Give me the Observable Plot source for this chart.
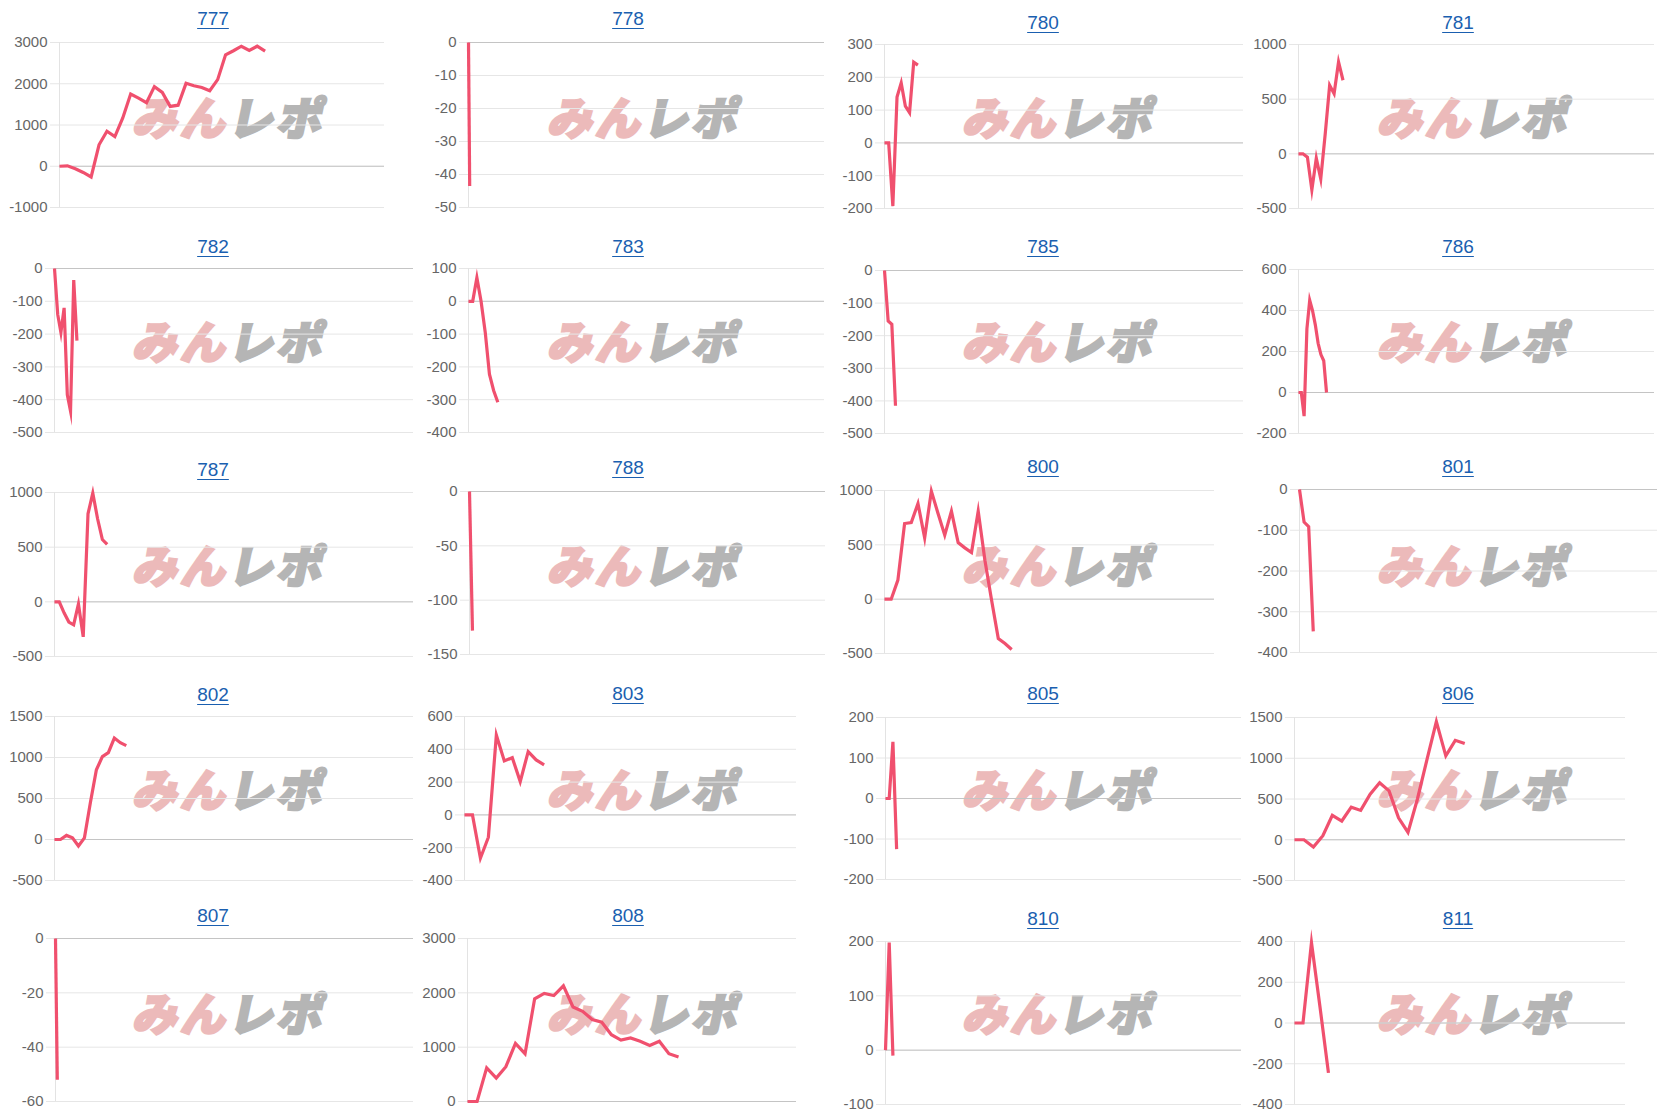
<!DOCTYPE html>
<html><head><meta charset="utf-8">
<script src="https://cdn.jsdelivr.net/npm/d3@7"></script>
<script src="https://cdn.jsdelivr.net/npm/@observablehq/plot@0.6"></script>
<style>
body{margin:0;background:#fff;width:1660px;height:1120px;overflow:hidden;font-family:"Liberation Sans",Arial,sans-serif}
#grid{position:relative;width:1660px;height:1120px}
.panel{position:absolute;width:415px;height:224px}
.title{position:absolute;left:0;width:426px;text-align:center;font-size:19px;line-height:22px;color:#1a5fb0;text-decoration:underline;text-underline-offset:3px}
.wm{position:absolute;left:136px;top:93px;font-family:"Noto Sans CJK JP",sans-serif;font-weight:900;font-size:45px;line-height:1;transform:skewX(-12deg);white-space:nowrap;letter-spacing:3px}
.wm .a{color:#ecbaba;-webkit-text-stroke:2.5px #ecbaba}
.wm .b{color:#b5b5b5;-webkit-text-stroke:2.5px #b5b5b5}
.panel svg{position:absolute;left:0;top:0}
</style></head>
<body><div id="grid"></div>
<script>
// chart names
const names = ["777","778","780","781","782","783","785","786","787","788","800","801","802","803","805","806","807","808","810","811"];

// series values
const s777 = [0,10,-60,-150,-260,520,850,720,1170,1750,1650,1540,1930,1790,1450,1480,2010,1950,1910,1830,2100,2700,2800,2910,2810,2910,2790];
const s778 = [0,-43.5];
const s780 = [0,0,-193,140,183,112,92,246,237];
const s781 = [0,0,-30,-330,-40,-230,180,627,550,840,673];
const s782 = [0,-140,-195,-120,-385,-435,-35,-220];
const s783 = [0,0,72,0,-95,-222,-272,-308];
const s785 = [0,-155,-165,-415];
const s786 = [0,0,-115,310,450,400,330,240,185,155,0];
const s787 = [0,0,-100,-185,-210,-20,-320,805,995,760,570,525];
const s788 = [0,-128];
const s800 = [0,0,175,696,705,880,564,994,788,589,810,521,472,429,810,359,-9,-362,-408,-463];
const s801 = [0,-80,-91,-348];
const s802 = [0,0,50,20,-80,20,450,850,1010,1060,1237,1180,1145];
const s803 = [0,0,-264,-136,487,329,349,203,386,335,305];
const s805 = [0,0,140,-125];
const s806 = [0,0,-90,50,300,230,400,360,560,700,600,270,90,500,980,1450,1030,1220,1180];
const s807 = [0,-52];
const s808 = [0,0,620,430,640,1070,880,1890,1990,1950,2130,1740,1660,1510,1460,1230,1130,1170,1110,1030,1110,880,820];
const s810 = [0,198,-10];
const s811 = [0,0,395,80,-245];
const seriesList = [s777,s778,s780,s781,s782,s783,s785,s786,s787,s788,s800,s801,s802,s803,s805,s806,s807,s808,s810,s811];

// number of x slots of each chart's axis
const xSlots = [41.1,300,86,80,112,85,98,127,75,120,49.3,78,60,41.7,96,35,200,34.3,96,39];

// y tick labels
const t777 = [-1000,0,1000,2000,3000];
const t778 = [-50,-40,-30,-20,-10,0];
const t780 = [-200,-100,0,100,200,300];
const t781 = [-500,0,500,1000];
const t782 = [-500,-400,-300,-200,-100,0];
const t783 = [-400,-300,-200,-100,0,100];
const t785 = [-500,-400,-300,-200,-100,0];
const t786 = [-200,0,200,400,600];
const t787 = [-500,0,500,1000];
const t788 = [-150,-100,-50,0];
const t800 = [-500,0,500,1000];
const t801 = [-400,-300,-200,-100,0];
const t802 = [-500,0,500,1000,1500];
const t803 = [-400,-200,0,200,400,600];
const t805 = [-200,-100,0,100,200];
const t806 = [-500,0,500,1000,1500];
const t807 = [-60,-40,-20,0];
const t808 = [0,1000,2000,3000];
const t810 = [-100,0,100,200];
const t811 = [-400,-200,0,200,400];
const tickList = [t777,t778,t780,t781,t782,t783,t785,t786,t787,t788,t800,t801,t802,t803,t805,t806,t807,t808,t810,t811];

// layout: [plot left, plot right, plot top, plot bottom, title centre y] inside each 415x224 panel
const frames = [
  [59,384,42,207,19],[53,409,42,207,19],[54,413,44,208,23],[53,409,44,208,23],
  [54,413,44,208,23],[53,409,44,208,23],[54,413,46,209,23],[53,409,45,209,23],
  [54,413,44,208,22],[54,410,43,206,20],[54,384,42,205,19],[54,412,41,204,19],
  [54,413,44,208,23],[49,381,44,208,22],[55,411,45,207,22],[49,380,45,208,22],
  [55,413,42,205,20],[52,381,42,205,20],[55,411,45,208,23],[49,380,45,208,23]
];

const grid = document.getElementById("grid");
names.forEach((name, k) => {
  const col = k % 4, row = Math.floor(k / 4);
  const panel = document.createElement("div");
  panel.className = "panel";
  panel.style.left = (col * 415) + "px";
  panel.style.top = (row * 224) + "px";
  const [L, R, T, B, ty] = frames[k];

  const wm = document.createElement("div");
  wm.className = "wm";
  wm.innerHTML = '<span class="a">みん</span><span class="b">レポ</span>';
  panel.appendChild(wm);

  const ticks = tickList[k];
  const xDomain = [0, xSlots[k]];
  const data = seriesList[k].map((v, i) => ({i, v}));
  const svg = Plot.plot({
    width: 415, height: 224,
    marginLeft: L, marginRight: 415 - R, marginTop: T, marginBottom: 224 - B,
    style: {background: "transparent", fontFamily: "Liberation Sans, Arial, sans-serif", overflow: "visible"},
    x: {domain: xDomain, axis: null},
    y: {domain: d3.extent(ticks)},
    marks: [
      Plot.gridY(ticks, {stroke: "#e6e6e6", strokeOpacity: 1}),
      Plot.ruleX([xDomain[0]], {stroke: "#e3e3e3"}),
      Plot.ruleY([0], {stroke: "#c4c4c4"}),
      Plot.axisY(ticks, {tickSize: 9, tickPadding: 3, tickFormat: d => String(d), stroke: "#e6e6e6", fill: "#666", fontSize: 15, label: null}),
      Plot.lineY(data, {x: "i", y: "v", stroke: "#f0506e", strokeWidth: 3.2, strokeLinejoin: "miter", strokeLinecap: "butt", strokeMiterlimit: 10})
    ]
  });
  panel.appendChild(svg);

  const title = document.createElement("div");
  title.className = "title";
  title.style.top = (ty - 11) + "px";
  title.textContent = name;
  panel.appendChild(title);

  grid.appendChild(panel);
});
</script>
</body></html>
